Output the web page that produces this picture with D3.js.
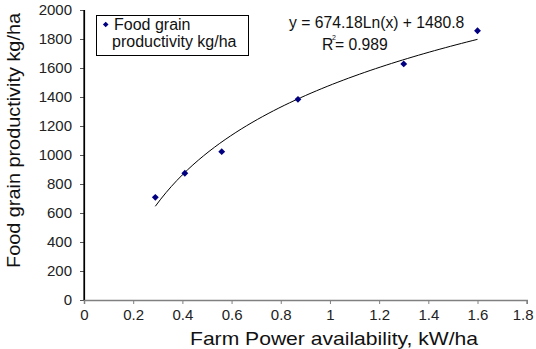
<!DOCTYPE html>
<html>
<head>
<meta charset="utf-8">
<script src="https://cdn.jsdelivr.net/npm/d3@7"></script>
<style>
  html, body { margin: 0; padding: 0; background: #fff; }
  svg { display: block; font-family: "Liberation Sans", Arial, sans-serif; }
</style>
</head>
<body>
<svg id="chart" width="536" height="349"></svg>
<script>
// ---- data ----
const farmPower = [0.29, 0.41, 0.56, 0.87, 1.30, 1.60];          // kW/ha
const productivity = [708, 874, 1023, 1384, 1628, 1857];         // kg/ha
const xTicks = [0, 0.2, 0.4, 0.6, 0.8, 1, 1.2, 1.4, 1.6, 1.8];
const yTicks = [0, 200, 400, 600, 800, 1000, 1200, 1400, 1600, 1800, 2000];
const trendA = 674.18;   // coefficient of Ln(x)
const trendB = 1480.8;   // intercept
const equationLabel = "y = 674.18Ln(x) + 1480.8";
const r2Label = "= 0.989";
const legendLines = ["Food grain", "productivity kg/ha"];
const xTitle = "Farm Power availability, kW/ha";
const yTitle = "Food grain productivity kg/ha";

// ---- layout ----
const svg = d3.select("#chart");
const x = d3.scaleLinear().domain([0, 1.8]).range([84, 526.7]);
const y = d3.scaleLinear().domain([0, 2000]).range([300, 10]);

// y axis
const yAxis = d3.axisLeft(y).tickValues(yTicks).tickSize(4).tickFormat(d3.format("d"));
const gy = svg.append("g").attr("transform", `translate(${x(0)},0)`).call(yAxis);
gy.select(".domain").attr("stroke", "#000").attr("stroke-width", 1.2);
gy.selectAll(".tick line").attr("stroke", "#555");
gy.selectAll(".tick text").attr("x", -12).attr("font-size", 15)
  .attr("fill", "#222").attr("font-family", "Liberation Sans, Arial, sans-serif");

// x axis
const xAxis = d3.axisBottom(x).tickValues(xTicks).tickSize(4).tickFormat(d => String(d));
const gx = svg.append("g").attr("transform", `translate(0,${y(0)})`).call(xAxis);
gx.select(".domain").attr("stroke", "#808080").attr("stroke-width", 1.5);
gx.selectAll(".tick line").attr("stroke", "#808080");
gx.selectAll(".tick text").attr("y", 9).attr("font-size", 15)
  .attr("fill", "#222").attr("font-family", "Liberation Sans, Arial, sans-serif")
  .attr("dx", (d, i, n) => i === n.length - 1 ? -4 : 0);
// redraw y axis line on top of x domain start
svg.append("line").attr("x1", x(0)).attr("x2", x(0)).attr("y1", y(2000)).attr("y2", y(0))
  .attr("stroke", "#000").attr("stroke-width", 1.2);

// trend line (logarithmic fit shown in chart)
const xMin = d3.min(farmPower), xMax = d3.max(farmPower);
const trendX = d3.range(0, 61).map(i => xMin + (xMax - xMin) * i / 60);
const line = d3.line().x(d => x(d)).y(d => y(trendA * Math.log(d) + trendB));
svg.append("path").datum(trendX).attr("d", line)
  .attr("fill", "none").attr("stroke", "#000").attr("stroke-width", 1);

// markers
const diamond = d3.symbol().type(d3.symbolDiamond2).size(30);
svg.selectAll("path.pt").data(farmPower).enter().append("path")
  .attr("class", "pt")
  .attr("d", diamond)
  .attr("transform", (d, i) => `translate(${x(d)},${y(productivity[i])})`)
  .attr("fill", "#000080");

// legend
svg.append("rect").attr("x", 96.5).attr("y", 15.5).attr("width", 152).attr("height", 40)
  .attr("fill", "#fff").attr("stroke", "#000").attr("stroke-width", 1);
svg.append("path").attr("d", d3.symbol().type(d3.symbolDiamond2).size(20))
  .attr("transform", "translate(105.7,24.5)").attr("fill", "#000080");
svg.append("text").attr("x", 114).attr("y", 29.5).attr("font-size", 16).attr("fill", "#111")
  .text(legendLines[0]);
svg.append("text").attr("x", 112).attr("y", 47).attr("font-size", 16).attr("fill", "#111")
  .text(legendLines[1]);

// equation
svg.append("text").attr("x", 289).attr("y", 27.5).attr("font-size", 15.7).attr("fill", "#111")
  .text(equationLabel);
svg.append("text").attr("x", 322).attr("y", 50).attr("font-size", 15.7).attr("fill", "#111").text("R");
svg.append("text").attr("x", 332).attr("y", 40).attr("font-size", 7).attr("fill", "#111").text("2");
svg.append("text").attr("x", 335).attr("y", 50).attr("font-size", 15.7).attr("fill", "#111").text(r2Label);

// axis titles
svg.append("text").attr("x", 190).attr("y", 344.5).attr("font-size", 18.5).attr("fill", "#111")
  .attr("textLength", 288).attr("lengthAdjust", "spacingAndGlyphs").text(xTitle);
svg.append("text").attr("transform", "translate(20,268) rotate(-90)")
  .attr("font-size", 18.5).attr("fill", "#111")
  .attr("textLength", 255).attr("lengthAdjust", "spacingAndGlyphs").text(yTitle);
</script>
</body>
</html>
